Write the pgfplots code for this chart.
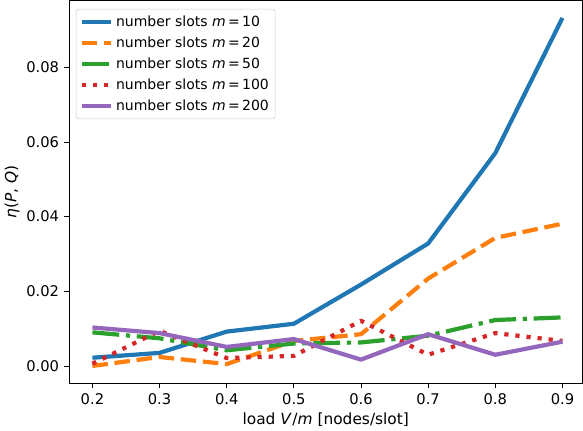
\documentclass[border=0pt]{standalone}
\usepackage{fontspec}
\setmainfont{DejaVu Sans}
\usepackage{pgfplots}
\pgfplotsset{compat=1.18}
\definecolor{tblue}{HTML}{1F77B4}
\definecolor{torange}{HTML}{FF7F0E}
\definecolor{tgreen}{HTML}{2CA02C}
\definecolor{tred}{HTML}{D62728}
\definecolor{tpurple}{HTML}{9467BD}
\begin{document}
\begin{tikzpicture}
\begin{axis}[
  scale only axis,
  width=367pt, height=273.6pt,
  xmin=0.165, xmax=0.93,
  ymin=-0.00466, ymax=0.0979,
  xtick={0.2,0.3,0.4,0.5,0.6,0.7,0.8,0.9},
  ytick={0,0.02,0.04,0.06,0.08},
  xticklabel style={/pgf/number format/fixed,/pgf/number format/fixed zerofill,/pgf/number format/precision=1},
  yticklabel style={/pgf/number format/fixed,/pgf/number format/fixed zerofill,/pgf/number format/precision=2},
  /pgf/number format/assume math mode=true,
  scaled y ticks=false,
  tick label style={font=\fontsize{10.5}{12.5}\selectfont},
  tick align=outside,
  major tick length=3.5pt,
  xtick pos=bottom, ytick pos=left,
  axis line style={line width=0.6pt},
  tick style={line width=0.6pt, black},
  xlabel={load \textit{V}\kern0.5pt/\textit{m} [nodes/slot]},
  ylabel={\textit{η}(\textit{P}, \textit{Q})},
  label style={font=\fontsize{11}{13}\selectfont},
  xlabel style={yshift=1pt},
  ylabel style={yshift=-2pt},
  legend style={at={(0,1)}, anchor=north west, xshift=5pt, yshift=-6pt,
    draw=black!20, rounded corners=2pt, font=\fontsize{10}{12}\selectfont,
    row sep=2pt, inner sep=2.5pt},
  legend cell align=left,
  legend image code/.code={\draw[#1] (0pt,0pt) -- (21pt,0pt);},
  every axis plot/.append style={line width=3pt, line join=round},
]
\addplot[tblue] coordinates {(0.2,0.0022) (0.3,0.0035) (0.4,0.0092) (0.5,0.0113) (0.6,0.0218) (0.7,0.0328) (0.8,0.0570) (0.9,0.0932)};
\addlegendentry{number slots \textit{m}\,=\,10}
\addplot[torange, dash pattern=on 11.1pt off 4.8pt] coordinates {(0.2,0.0000) (0.3,0.0024) (0.4,0.0005) (0.5,0.0067) (0.6,0.0085) (0.7,0.0234) (0.8,0.0343) (0.9,0.0381)};
\addlegendentry{number slots \textit{m}\,=\,20}
\addplot[tgreen, dash pattern=on 19.2pt off 4.8pt on 3pt off 4.8pt] coordinates {(0.2,0.0090) (0.3,0.0074) (0.4,0.0042) (0.5,0.0060) (0.6,0.0063) (0.7,0.0081) (0.8,0.0123) (0.9,0.0130)};
\addlegendentry{number slots \textit{m}\,=\,50}
\addplot[tred, dash pattern=on 3pt off 4.95pt] coordinates {(0.2,0.0006) (0.3,0.0094) (0.4,0.0021) (0.5,0.0027) (0.6,0.0121) (0.7,0.0030) (0.8,0.0088) (0.9,0.0067)};
\addlegendentry{number slots \textit{m}\,=\,100}
\addplot[tpurple] coordinates {(0.2,0.0103) (0.3,0.0088) (0.4,0.0051) (0.5,0.0072) (0.6,0.0017) (0.7,0.0085) (0.8,0.0030) (0.9,0.0065)};
\addlegendentry{number slots \textit{m}\,=\,200}
\end{axis}
\end{tikzpicture}
\end{document}
